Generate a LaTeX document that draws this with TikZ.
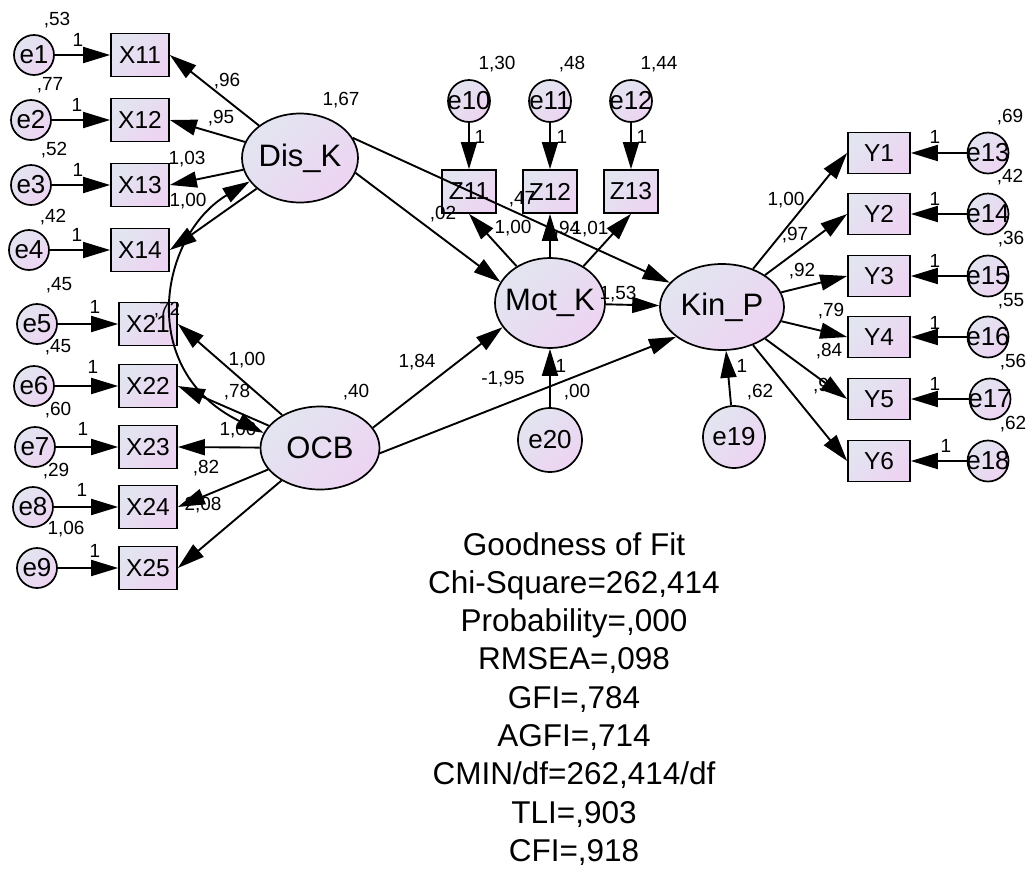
\documentclass[tikz,border=0pt]{standalone}
\usepackage{fontspec}
\setmainfont{Liberation Sans}
\usetikzlibrary{arrows.meta,shapes.geometric}
\definecolor{ca}{RGB}{226,229,240}
\definecolor{cb}{RGB}{237,212,242}
\newcommand{\ct}[1]{\makebox[0pt]{#1}}
\begin{document}
\begin{tikzpicture}[x=1pt,y=-1pt,
  every node/.style={inner sep=0pt},
  fillgrad/.style={top color=ca, bottom color=cb, shading angle=45},
  obs/.style={draw, line width=1.7pt, fillgrad, rectangle, minimum width=58pt, minimum height=43pt, font=\fontsize{24.5}{24.5}\selectfont},
  err/.style={draw, circle, line width=1.7pt, fillgrad, minimum size=40pt, font=\fontsize{26}{26}\selectfont},
  lat/.style={draw, ellipse, line width=1.7pt, fillgrad, font=\fontsize{31}{31}\selectfont},
  num/.style={font=\fontsize{19}{19}\selectfont},
  arr/.style={line width=1.9pt, -{Triangle[length=27pt,width=16pt]}},
  dbl/.style={line width=1.9pt, {Triangle[length=27pt,width=16pt]}-{Triangle[length=27pt,width=16pt]}},
]
\fill[white] (0,0) rectangle (1028,871);
\useasboundingbox (0,0) rectangle (1028,871);

% left indicators
\node[obs] (X11) at (140,55) {X11};
\node[obs] (X12) at (140,120) {X12};
\node[obs] (X13) at (140,185) {X13};
\node[obs] (X14) at (140,250) {X14};
\node[obs] (X21) at (148,324) {X21};
\node[obs] (X22) at (148,386) {X22};
\node[obs] (X23) at (148,447) {X23};
\node[obs] (X24) at (148,507) {X24};
\node[obs] (X25) at (148,568) {X25};

\node[err] (e1) at (34,55) {\ct{e1}};
\node[err] (e2) at (31,120) {\ct{e2}};
\node[err] (e3) at (31,185) {\ct{e3}};
\node[err] (e4) at (29,250) {\ct{e4}};
\node[err] (e5) at (37,324) {\ct{e5}};
\node[err] (e6) at (34,386) {\ct{e6}};
\node[err] (e7) at (35,447) {\ct{e7}};
\node[err] (e8) at (33,507) {\ct{e8}};
\node[err] (e9) at (37,568) {\ct{e9}};

% latent
\node[lat, minimum width=116pt, minimum height=89pt] (DisK) at (300,158) {\ct{Dis\_K}};
\node[lat, minimum width=119pt, minimum height=83pt] (OCB) at (320,448) {\ct{OCB}};
\node[lat, minimum width=110pt, minimum height=90pt] (MotK) at (550,303) {\ct{Mot\_K}};
\node[lat, minimum width=124pt, minimum height=86pt] (KinP) at (722,307) {\ct{Kin\_P}};

% Z
\node[obs, minimum width=54pt] (Z11) at (469,191.5) {Z11};
\node[obs, minimum width=54pt] (Z12) at (550,191.5) {Z12};
\node[obs, minimum width=54pt] (Z13) at (631,191.5) {Z13};
\node[err, minimum size=42pt] (e10) at (469,101) {\ct{e10}};
\node[err, minimum size=42pt] (e11) at (550,101) {\ct{e11}};
\node[err, minimum size=42pt] (e12) at (631,101) {\ct{e12}};

% Y
\node[obs, minimum width=62pt, minimum height=41pt] (Y1) at (879,153) {Y1};
\node[obs, minimum width=62pt, minimum height=41pt] (Y2) at (879,214) {Y2};
\node[obs, minimum width=62pt, minimum height=41pt] (Y3) at (879,276) {Y3};
\node[obs, minimum width=62pt, minimum height=41pt] (Y4) at (879,337) {Y4};
\node[obs, minimum width=62pt, minimum height=41pt] (Y5) at (879,399) {Y5};
\node[obs, minimum width=62pt, minimum height=41pt] (Y6) at (879,461) {Y6};
\node[err, minimum size=41pt] (e13) at (988,153) {\ct{e13}};
\node[err, minimum size=41pt] (e14) at (988,214) {\ct{e14}};
\node[err, minimum size=41pt] (e15) at (988,276) {\ct{e15}};
\node[err, minimum size=41pt] (e16) at (988,337) {\ct{e16}};
\node[err, minimum size=41pt] (e17) at (990,399) {\ct{e17}};
\node[err, minimum size=41pt] (e18) at (988,461) {\ct{e18}};

% structural errors
\node[err, minimum size=64pt] (e20) at (550,440) {\ct{e20}};
\node[err, minimum size=62pt] (e19) at (734,437) {\ct{e19}};

% error arrows
\foreach \a/\b in {e1/X11,e2/X12,e3/X13,e4/X14,e5/X21,e6/X22,e7/X23,e8/X24,e9/X25,
  e10/Z11,e11/Z12,e12/Z13,e13/Y1,e14/Y2,e15/Y3,e16/Y4,e17/Y5,e18/Y6,e20/MotK,e19/KinP}
  \draw[arr] (\a) -- (\b);

% loadings
\foreach \b in {X11,X12,X13,X14} \draw[arr] (DisK) -- (\b.east);
\foreach \b in {X21,X22,X23,X24,X25} \draw[arr] (OCB) -- (\b.east);
\foreach \b in {Z11,Z12,Z13} \draw[arr] (MotK) -- (\b.south);
\foreach \b in {Y1,Y2,Y3,Y4,Y5,Y6} \draw[arr] (KinP) -- (\b.west);

% structural paths
\draw[arr] (DisK.-15) -- (MotK.157);
\draw[arr] (DisK.21) -- (KinP.155);
\draw[arr] (OCB.21) -- (MotK.207);
\draw[arr] (OCB.-5) -- (KinP.213);
\draw[arr] (MotK) -- (KinP);

% covariance
\draw[dbl] (DisK.205) .. controls (160,235) and (135,370) .. (OCB.165);

% numeric labels
\foreach \x/\y/\t [count=\k] in {
  57/20/{,53}, 78/40/1, 50/85/{,77}, 77/105/1, 54/150/{,52}, 78/170/1, 53/217/{,42}, 77/235/1,
  227/81/{,96}, 221/118/{,95}, 187/159/{1,03}, 188/201/{1,00}, 341/100/{1,67},
  59/285/{,45}, 95/307/1, 58/347/{,45}, 93/367/1, 58/410/{,60}, 83/429/1,
  56/471/{,29}, 82/490/1, 66/529/{1,06}, 95/551/1,
  167/310/{,72}, 247/360/{1,00}, 237/392/{,78}, 238/430/{1,00}, 206/468/{,82}, 203/505/{2,08}, 356/392/{,40},
  497/64/{1,30}, 572/64/{,48}, 659/64/{1,44}, 480/137/1, 562/137/1, 642/137/1,
  443/214/{,02}, 522/199/{,47}, 513/228/{1,00}, 567/229/{,94}, 590/229/{1,01},
  618/294/{1,53}, 417/362/{1,84}, 503/379/{-1,95}, 561/366/1, 577/392/{,00}, 742/366/1, 760/392/{,62},
  1010/117/{,69}, 935/137/1, 1010/177/{,42}, 935/199/1, 1011/239/{,36}, 935/261/1,
  1011/301/{,55}, 935/323/1, 1013/362/{,56}, 935/384/1, 1013/424/{,62}, 946/446/1,
  786/200/{1,00}, 795/235/{,97}, 802/271/{,92}, 831/311/{,79}, 829/351/{,84}, 821/386/{,9}}
  \node[num] (lab\k) at (\x,\y) {\t};

% fit block
\node[font=\fontsize{31.5}{38.3}\selectfont, align=center, anchor=north] (gof) at (574,532)
  {Goodness of Fit\\Chi-Square=262,414\\Probability=,000\\RMSEA=,098\\GFI=,784\\AGFI=,714\\CMIN/df=262,414/df\\TLI=,903\\CFI=,918};
\end{tikzpicture}
\end{document}
